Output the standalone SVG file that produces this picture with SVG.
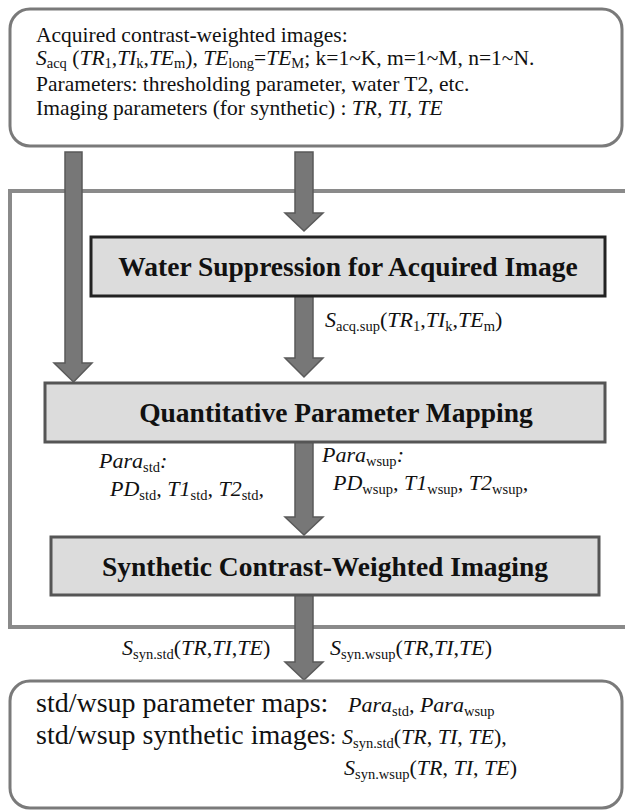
<svg xmlns="http://www.w3.org/2000/svg" width="625" height="811" viewBox="0 0 625 811" font-family="'Liberation Serif', 'DejaVu Serif', serif">
  <style>
    text { font-family: "Liberation Serif", "DejaVu Serif", serif; fill: #111; }
    .reg { font-size: 21.5px; }
    .lab { font-size: 22px; }
    .big { font-size: 28px; }
    .ttl { font-size: 27.5px; font-weight: bold; text-anchor: middle; }
    .i { font-style: italic; }
    .s { font-size: 14.5px; font-style: normal; baseline-shift: -4px; }
    .s3 { baseline-shift: -3px; }
    .frame { fill: #fff; stroke: #7a7a7a; stroke-width: 3; }
    .panel { fill: none; stroke: #8a8a8a; stroke-width: 4; }
    .step { fill: #dcdcdc; stroke: #555; stroke-width: 3; }
    .arrow { fill: #777; stroke: #5a5a5a; stroke-width: 1.5; stroke-linejoin: miter; }
  </style>

  <!-- outer panel enclosing the processing steps -->
  <rect id="panel" class="panel" x="10" y="191" width="640" height="436"/>

  <!-- inputs -->
  <g id="inputs">
    <rect class="frame" x="10" y="9" width="612" height="137" rx="20" ry="20"/>
    <text class="reg" x="36" y="42">Acquired contrast-weighted images:</text>
    <text class="reg" x="36" y="65"><tspan class="i">S</tspan><tspan class="s s3">acq</tspan> (<tspan class="i">TR</tspan><tspan class="s s3">1</tspan>,<tspan class="i">TI</tspan><tspan class="s s3">k</tspan>,<tspan class="i">TE</tspan><tspan class="s s3">m</tspan>), <tspan class="i">TE</tspan><tspan class="s s3">long</tspan>=<tspan class="i">TE</tspan><tspan class="s s3">M</tspan>; k=1~K, m=1~M, n=1~N.</text>
    <text class="reg" x="36" y="90.5">Parameters: thresholding parameter, water T2, etc.</text>
    <text class="reg" x="36" y="114.5">Imaging parameters (for synthetic) : <tspan class="i">TR, TI, TE</tspan></text>
  </g>

  <!-- connectors -->
  <g id="connectors">
    <polygon class="arrow" points="65,152 82,152 82,363 92,363 73.5,382 54,363 65,363"/>
    <polygon class="arrow" points="295,152 313,152 313,213 323,213 304,231 285,213 295,213"/>
    <polygon class="arrow" points="295,296 313,296 313,358 323,358 304,377 285,358 295,358"/>
    <polygon class="arrow" points="295,442 313,442 313,517 323,517 304,535 285,517 295,517"/>
    <polygon class="arrow" points="295,595 313,595 313,662 323,662 304,680 285,662 295,662"/>
    <text class="lab" x="325" y="327"><tspan class="i">S</tspan><tspan class="s">acq.sup</tspan>(<tspan class="i">TR</tspan><tspan class="s">1</tspan>,<tspan class="i">TI</tspan><tspan class="s">k</tspan>,<tspan class="i">TE</tspan><tspan class="s">m</tspan>)</text>
    <text class="lab i" x="99" y="468">Para<tspan class="s">std</tspan>:</text>
    <text class="lab i" x="110" y="496">PD<tspan class="s">std</tspan>, T1<tspan class="s">std</tspan>, T2<tspan class="s">std</tspan>,</text>
    <text class="lab i" x="322" y="462">Para<tspan class="s">wsup</tspan>:</text>
    <text class="lab i" x="333" y="490">PD<tspan class="s">wsup</tspan>, T1<tspan class="s">wsup</tspan>, T2<tspan class="s">wsup</tspan>,</text>
    <text class="lab" x="122" y="655"><tspan class="i">S</tspan><tspan class="s">syn.std</tspan>(<tspan class="i">TR</tspan>,<tspan class="i">TI</tspan>,<tspan class="i">TE</tspan>)</text>
    <text class="lab" x="330" y="655"><tspan class="i">S</tspan><tspan class="s">syn.wsup</tspan>(<tspan class="i">TR</tspan>,<tspan class="i">TI</tspan>,<tspan class="i">TE</tspan>)</text>
  </g>

  <!-- processing steps -->
  <g id="water-suppression">
    <rect class="step" x="91" y="237" width="514" height="59" style="stroke:#222"/>
    <text class="ttl" x="348" y="276">Water Suppression for Acquired Image</text>
  </g>
  <g id="parameter-mapping">
    <rect class="step" x="45" y="383" width="560" height="59"/>
    <text class="ttl" x="336" y="422">Quantitative Parameter Mapping</text>
  </g>
  <g id="synthetic-imaging">
    <rect class="step" x="51" y="537" width="548" height="58"/>
    <text class="ttl" x="325" y="576">Synthetic Contrast-Weighted Imaging</text>
  </g>

  <!-- outputs -->
  <g id="outputs">
    <rect class="frame" x="10" y="681" width="612" height="127" rx="20" ry="20"/>
    <text class="big" x="36" y="712">std/wsup parameter maps:</text>
    <text class="lab i" x="348" y="712">Para<tspan class="s">std</tspan>, Para<tspan class="s">wsup</tspan></text>
    <text class="big" x="36" y="744">std/wsup synthetic images<tspan class="lab">:</tspan></text>
    <text class="lab" x="342" y="744"><tspan class="i">S</tspan><tspan class="s">syn.std</tspan>(<tspan class="i">TR</tspan>, <tspan class="i">TI</tspan>, <tspan class="i">TE</tspan>),</text>
    <text class="lab" x="344" y="775"><tspan class="i">S</tspan><tspan class="s">syn.wsup</tspan>(<tspan class="i">TR</tspan>, <tspan class="i">TI</tspan>, <tspan class="i">TE</tspan>)</text>
  </g>
</svg>
